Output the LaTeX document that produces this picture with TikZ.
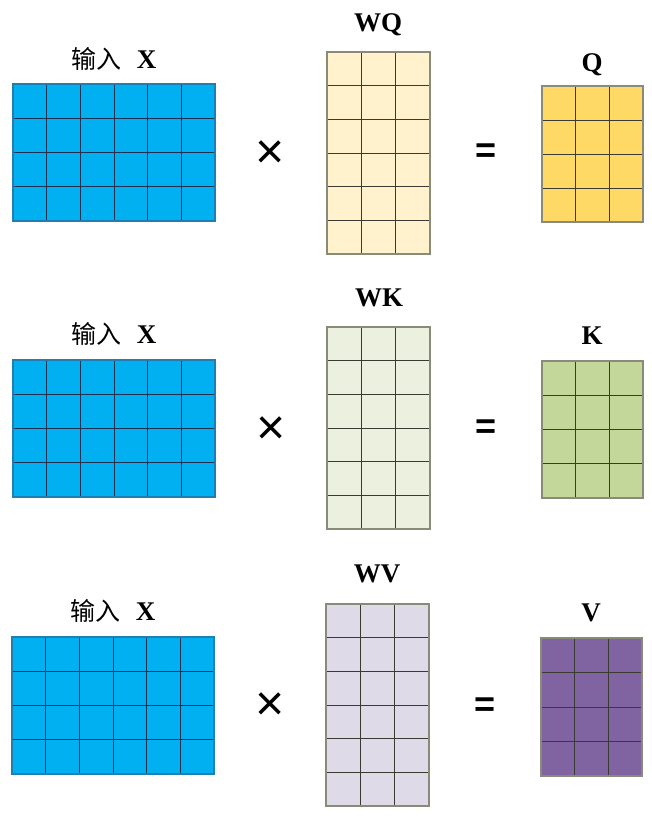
\documentclass[tikz,border=0pt]{standalone}
\usepackage{fontspec}
\setmainfont{Liberation Serif}
\newfontfamily\cjk{Noto Sans CJK SC}
\newfontfamily\opfont{Liberation Sans}
\definecolor{xfill}{HTML}{00B0F0}
\definecolor{xline}{HTML}{1F3050}
\definecolor{xborder}{HTML}{1E7FB0}
\definecolor{wqfill}{HTML}{FFF2CC}
\definecolor{qfill}{HTML}{FFD966}
\definecolor{wkfill}{HTML}{EBF1DE}
\definecolor{kfill}{HTML}{C4D79B}
\definecolor{wvfill}{HTML}{DFDAE8}
\definecolor{vfill}{HTML}{8064A2}
\definecolor{gline}{HTML}{3A3A30}
\definecolor{gborder}{HTML}{8A8A78}
\tikzset{
  lbl/.style={anchor=base, inner sep=0pt, font=\fontsize{27}{27}\selectfont\bfseries},
  xlbl/.style={anchor=base, inner sep=0pt, font=\fontsize{25}{25}\selectfont},
  opx/.style={inner sep=0pt, font=\opfont\fontsize{50}{50}\selectfont},
  opeq/.style={inner sep=0pt, font=\opfont\bfseries\fontsize{36}{36}\selectfont},
}
% #1 x0, #2 y0, #3 x1, #4 y1, #5 cols, #6 rows, #7 fill, #8 line, #9 border
\newcommand{\gridmat}[9]{%
  \fill[#7] (#1,#2) rectangle (#3,#4);
  \foreach \k in {1,...,\the\numexpr#5-1\relax}
    \draw[#8, line width=1pt] ({#1+\k*(#3-#1)/#5},#2) -- ({#1+\k*(#3-#1)/#5},#4);
  \foreach \k in {1,...,\the\numexpr#6-1\relax}
    \draw[#8, line width=1pt] (#1,{#2+\k*(#4-#2)/#6}) -- (#3,{#2+\k*(#4-#2)/#6});
  \draw[#9, line width=1.2pt] (#1,#2) rectangle (#3,#4);
}
\newcommand{\inputlabel}[3]{%
  \node[xlbl] (#1) at (#2,#3) {{\cjk 输入}\hspace{15pt}{\fontsize{27}{27}\selectfont\bfseries X}};
}
\begin{document}
\begin{tikzpicture}[x=1pt,y=-1pt]
\useasboundingbox (0,0) rectangle (652,817);
% Row 1
\gridmat{13}{84}{215}{221}{6}{4}{xfill}{xline}{xborder}
\gridmat{327}{52}{430}{254}{3}{6}{wqfill}{gline}{gborder}
\gridmat{542}{86}{643}{222}{3}{4}{qfill}{gline}{gborder}
\inputlabel{lx1}{114}{68.5}
\node[lbl] (lwq) at (378,31.5) {WQ};
\node[lbl] (lq) at (592,71) {Q};
\node[opx] (m1) at (270,155) {×};
\node[opeq] (e1) at (486,153.5) {=};
% Row 2
\gridmat{13}{360}{215}{497}{6}{4}{xfill}{xline}{xborder}
\gridmat{327}{327}{430}{529}{3}{6}{wkfill}{gline}{gborder}
\gridmat{542}{361}{643}{498}{3}{4}{kfill}{gline}{gborder}
\inputlabel{lx2}{114}{343.5}
\node[lbl] (lwk) at (379,306) {WK};
\node[lbl] (lk) at (592,344) {K};
\node[opx] (m2) at (271,431) {×};
\node[opeq] (e2) at (486,429.5) {=};
% Row 3
\gridmat{12}{637}{214}{774}{6}{4}{xfill}{xline}{xborder}
\gridmat{326}{604}{429}{806}{3}{6}{wvfill}{gline}{gborder}
\gridmat{541}{638}{642}{776}{3}{4}{vfill}{gline}{gborder}
\inputlabel{lx3}{113}{620}
\node[lbl] (lwv) at (377,582.5) {WV};
\node[lbl] (lv) at (591,621) {V};
\node[opx] (m3) at (270,707) {×};
\node[opeq] (e3) at (485,707.5) {=};
\end{tikzpicture}
\end{document}
